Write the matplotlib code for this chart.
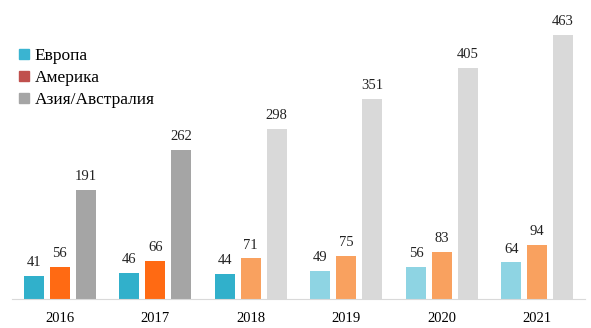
import matplotlib.pyplot as plt
import numpy as np
from matplotlib.patches import Patch

plt.rcParams['font.family'] = ['Liberation Serif', 'DejaVu Serif']

years = ['2016', '2017', '2018', '2019', '2020', '2021']
europe = [41, 46, 44, 49, 56, 64]
america = [56, 66, 71, 75, 83, 94]
asia = [191, 262, 298, 351, 405, 463]
series_names = ['Европа', 'Америка', 'Азия/Австралия']

# darker shades for early years, lighter for later ones
europe_colors = ['#31B0CB', '#31B0CB', '#31B0CB', '#8ED4E3', '#8ED4E3', '#8ED4E3']
america_colors = ['#FF6A13', '#FF6A13', '#F9A15F', '#F9A15F', '#F9A15F', '#F9A15F']
asia_colors = ['#A5A5A5', '#A5A5A5', '#D9D9D9', '#D9D9D9', '#D9D9D9', '#D9D9D9']
legend_colors = ['#3AB4D1', '#C0504D', '#A5A5A5']

fig = plt.figure(figsize=(5.91, 3.28), dpi=100)
ax = fig.add_axes([12 / 591, 29 / 328, 573 / 591, 299 / 328])

x = np.arange(len(years))
w = 0.21
step = 0.27
for vals, cols, off in [(europe, europe_colors, -step), (america, america_colors, 0), (asia, asia_colors, step)]:
    bars = ax.bar(x + off, vals, width=w, color=cols)
    for b, v in zip(bars, vals):
        ax.annotate(str(v), (b.get_x() + b.get_width() / 2, v), xytext=(0, 5),
                    textcoords='offset points', ha='center', va='bottom', fontsize=10.5, color='#222222')

ax.set_xlim(-0.5, 5.5)
ax.set_ylim(0, 524)
ax.set_xticks(x)
ax.set_xticklabels(years, fontsize=10.5)
ax.tick_params(axis='x', length=0, pad=9)
ax.set_yticks([])
for s in ['top', 'right', 'left']:
    ax.spines[s].set_visible(False)
ax.spines['bottom'].set_color('#D9D9D9')

handles = [Patch(color=c) for c in legend_colors]
fig.legend(handles, series_names, loc='upper left', bbox_to_anchor=(19 / 591, 1 - 48 / 328),
           frameon=False, fontsize=12.5, handlelength=0.55, handleheight=0.55,
           handletextpad=0.35, labelspacing=0.35, borderaxespad=0, borderpad=0)

fig.savefig('out.png', dpi=100)
